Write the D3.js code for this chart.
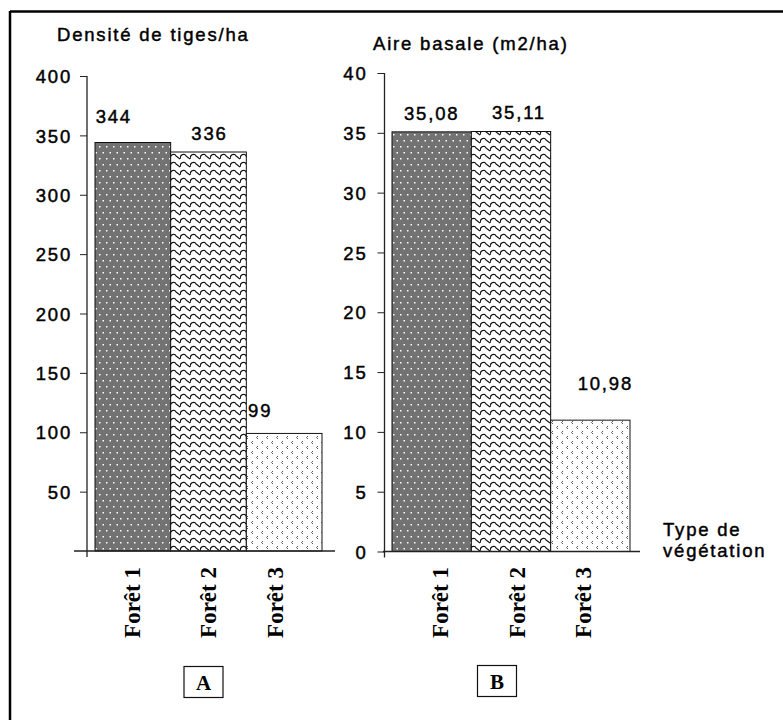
<!DOCTYPE html>
<html>
<head>
<meta charset="utf-8">
<script src="https://cdn.jsdelivr.net/npm/d3@7"></script>
<style>
  body { margin: 0; background: #fff; }
  .sans { font-family: 'Liberation Sans', Arial, sans-serif; font-size: 18.5px; letter-spacing: 1.8px; fill: #000; stroke: #000; stroke-width: 0.45px; }
  .serif { font-family: 'Liberation Serif', 'Times New Roman', serif; font-weight: bold; fill: #000; }
</style>
</head>
<body>
<script>
// data
var categories = ['Forêt 1', 'Forêt 2', 'Forêt 3']
var densityValues = [344, 336, 99]
var densityLabels = ['344', '336', '99']
var densityTicks = [50, 100, 150, 200, 250, 300, 350, 400]
var basalValues = [35.08, 35.11, 10.98]
var basalLabels = ['35,08', '35,11', '10,98']
var basalTicks = [0, 5, 10, 15, 20, 25, 30, 35, 40]

var svg = d3.select('body').append('svg')
  .attr('width', 783)
  .attr('height', 720)

// fill patterns, one per forest
var defs = svg.append('defs')

var p1 = defs.append('pattern').attr('id', 'pat1')
  .attr('patternUnits', 'userSpaceOnUse').attr('width', 7).attr('height', 12)
p1.append('rect').attr('width', 7).attr('height', 12).attr('fill', '#727272')
p1.append('rect').attr('x', 1).attr('y', 2).attr('width', 1.5).attr('height', 1.5).attr('fill', '#fff')
p1.append('rect').attr('x', 4.5).attr('y', 8).attr('width', 1.5).attr('height', 1.5).attr('fill', '#fff')

var p2 = defs.append('pattern').attr('id', 'pat2')
  .attr('patternUnits', 'userSpaceOnUse').attr('width', 10).attr('height', 8)
p2.append('rect').attr('width', 10).attr('height', 8).attr('fill', '#fff')
p2.append('path')
  .attr('d', 'M0,7 C0,2 5,1 6,4 L10,7 M0,-1 C0,-6 5,-7 6,-4 L10,-1 M0,15 C0,10 5,9 6,12 L10,15')
  .attr('fill', 'none').attr('stroke', '#111').attr('stroke-width', 1.2)

var p3 = defs.append('pattern').attr('id', 'pat3')
  .attr('patternUnits', 'userSpaceOnUse').attr('width', 10).attr('height', 10)
p3.append('rect').attr('width', 10).attr('height', 10).attr('fill', '#fff')
p3.append('path')
  .attr('d', 'M3,1 L1.5,2.5 L3,4 M8,6 L6.5,7.5 L8,9')
  .attr('fill', 'none').attr('stroke', '#555').attr('stroke-width', 1)

var fills = ['url(#pat1)', 'url(#pat2)', 'url(#pat3)']

// frame (only top and left edges show)
svg.append('line').attr('x1', 10).attr('y1', 11.5).attr('x2', 783).attr('y2', 11.5)
  .attr('stroke', '#000').attr('stroke-width', 2.5)
svg.append('line').attr('x1', 10).attr('y1', 11).attr('x2', 10).attr('y2', 720)
  .attr('stroke', '#000').attr('stroke-width', 2.5)

function drawChart (cfg) {
  var g = svg.append('g')
  var x = d3.scaleBand().domain(categories).range(cfg.barRange).padding(0)
  var y = d3.scaleLinear().domain(cfg.domain).range([cfg.y0, cfg.yTop])

  // y axis ticks + labels
  var axis = d3.axisLeft(y).tickValues(cfg.ticks).tickSize(7).tickSizeOuter(0)
    .tickPadding(cfg.pad).tickFormat(d3.format('d'))
  var ag = g.append('g').attr('transform', 'translate(' + cfg.axisX + ',0)').call(axis)
  ag.select('.domain').remove()
  ag.selectAll('.tick line').attr('stroke', '#222')
  ag.selectAll('.tick text').attr('class', 'sans').attr('font-family', null).attr('font-size', null)
    .attr('dy', '0.36em')

  // bars
  g.selectAll('rect.bar').data(cfg.values).enter().append('rect')
    .attr('class', 'bar')
    .attr('x', function (d, i) { return x(categories[i]) })
    .attr('y', function (d) { return y(d) })
    .attr('width', x.bandwidth())
    .attr('height', function (d) { return y(0) - y(d) })
    .attr('fill', function (d, i) { return fills[i] })
    .attr('stroke', '#111').attr('stroke-width', 1)

  // axis lines
  g.append('line').attr('x1', cfg.axisX).attr('x2', cfg.axisX)
    .attr('y1', y(cfg.domain[1])).attr('y2', y(0) + 6).attr('stroke', '#222').attr('stroke-width', 1.3)
  g.append('line').attr('x1', cfg.xAxisFrom).attr('x2', cfg.xAxisTo)
    .attr('y1', y(0)).attr('y2', y(0)).attr('stroke', '#222').attr('stroke-width', 1.3)

  // value labels
  g.selectAll('text.val').data(cfg.values).enter().append('text')
    .attr('class', 'sans')
    .attr('text-anchor', 'middle')
    .attr('x', function (d, i) { return x(categories[i]) + x.bandwidth() / 2 + cfg.labelDx[i] })
    .attr('y', function (d, i) { return y(d) + cfg.labelDy[i] })
    .text(function (d, i) { return cfg.labels[i] })

  // category labels, vertical
  g.selectAll('text.cat').data(categories).enter().append('text')
    .attr('class', 'serif')
    .attr('font-size', 23)
    .attr('text-anchor', 'end')
    .attr('transform', function (d, i) {
      return 'translate(' + (x(d) + x.bandwidth() / 2 + cfg.catDx[i]) + ',567) rotate(-90)'
    })
    .text(function (d) { return d })

  // title
  g.append('text').attr('class', 'sans').attr('x', cfg.titleX).attr('y', cfg.titleY).text(cfg.title)

  // panel letter box
  g.append('rect').attr('x', cfg.box[0]).attr('y', cfg.box[1]).attr('width', 39).attr('height', 31)
    .attr('fill', 'none').attr('stroke', '#111').attr('stroke-width', 1.2)
  g.append('text').attr('class', 'serif').attr('font-size', 21).attr('text-anchor', 'middle')
    .attr('x', cfg.box[0] + 19.5).attr('y', cfg.box[1] + 23).text(cfg.letter)
}

drawChart({
  values: densityValues,
  labels: densityLabels,
  ticks: densityTicks,
  domain: [0, 400],
  y0: 551,
  yTop: 76,
  axisX: 87,
  pad: 8,
  barRange: [95, 322],
  xAxisFrom: 74,
  xAxisTo: 335,
  labelDx: [-19, 1, -24],
  labelDy: [-20, -12, -16],
  catDx: [7, 7.5, -1.5],
  title: 'Densité de tiges/ha',
  titleX: 57,
  titleY: 41,
  box: [184, 666.5],
  letter: 'A'
})

drawChart({
  values: basalValues,
  labels: basalLabels,
  ticks: basalTicks,
  domain: [0, 40],
  y0: 551.5,
  yTop: 73,
  axisX: 384.5,
  pad: 10,
  barRange: [392, 630],
  xAxisFrom: 383,
  xAxisTo: 640,
  labelDx: [0, 8, 15],
  labelDy: [-12, -12, -30],
  catDx: [16.5, 13.5, 1],
  title: 'Aire basale (m2/ha)',
  titleX: 373,
  titleY: 50,
  box: [477.5, 665.5],
  letter: 'B'
})

svg.append('text').attr('class', 'sans').attr('x', 663).attr('y', 536).text('Type de')
svg.append('text').attr('class', 'sans').attr('x', 663).attr('y', 557).text('végétation')
</script>
</body>
</html>
